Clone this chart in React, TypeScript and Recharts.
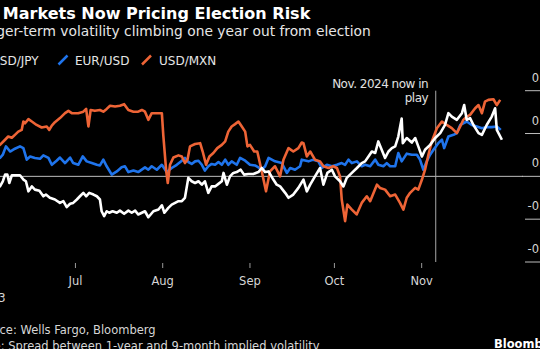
import React from 'react';
import { LineChart, Line, XAxis, YAxis, ReferenceLine } from 'recharts';

// Days since 1 Jun 2023 -> spread value
const usdJpy: [number, number][] = [
  [0, -0.03], [3.2, -0.047], [4.2, -0.023], [5, 0.008], [5.8, 0.008], [6.5, -0.031], [7.4, 0.005], [8.5, 0.005],
  [10.3, 0.005], [11.5, -0.015], [12.4, -0.023], [13.3, -0.07], [14.5, -0.047], [15.6, -0.062], [17.2, -0.067],
  [18.6, -0.093], [19.5, -0.085], [20.9, -0.1], [22.7, -0.108], [24.5, -0.124], [25.7, -0.116], [26.9, -0.144],
  [28.1, -0.128], [29.2, -0.124], [30.5, -0.108], [31.6, -0.093], [32.8, -0.077], [33.8, -0.093], [34.9, -0.077],
  [36.4, -0.085], [37.6, -0.093], [38.7, -0.108], [39.3, -0.163], [40.2, -0.186], [41.1, -0.163], [42, -0.17],
  [43.2, -0.163], [44.7, -0.17], [45.8, -0.16], [47.3, -0.175], [48.8, -0.16], [50, -0.17], [51.2, -0.16],
  [52.3, -0.178], [54.7, -0.163], [55.9, -0.191], [57.7, -0.163], [59.5, -0.155], [60.7, -0.135], [61.6, -0.17],
  [63, -0.147], [64.2, -0.132], [65.4, -0.124], [66.6, -0.116], [67.8, -0.116], [68.9, -0.1], [70.1, -0.007],
  [71.3, -0.023], [72.5, -0.031], [73.7, -0.023], [74.9, -0.039], [76, -0.023], [77.2, -0.077], [78.4, -0.047],
  [79.6, -0.047], [80.8, -0.035], [82, -0.023], [82.6, 0.016], [83.8, -0.039], [84.9, 0], [86.1, 0.016],
  [87.3, 0.02], [88.7, 0.031], [89.9, 0.008], [91.4, 0.011], [93.2, 0.011], [95, 0.02], [96.2, 0.039],
  [97.4, 0.02], [98.6, 0.023], [100.3, -0.015], [101.5, -0.039], [102.7, -0.047], [104.5, -0.077], [105.7, -0.1],
  [107.4, -0.085], [109.2, -0.054], [111, -0.015], [112.2, -0.07], [113.4, -0.039], [115.1, 0], [116.9, 0.039],
  [118.1, -0.039], [119.5, 0.016], [121.1, 0.031], [122.2, 0], [124, -0.023], [125.2, -0.047], [126.4, -0.007],
  [128.2, 0.016], [130, 0.039], [131.7, 0.062], [132.9, 0.07], [134.1, 0.093], [135.3, 0.116], [136.5, 0.109],
  [137.6, 0.163], [138.8, 0.124], [140, 0.086], [141.2, 0.116], [142.4, 0.132], [143.6, 0.14], [144.7, 0.186],
  [145.9, 0.27], [146.3, 0.155], [147.7, 0.179], [149.5, 0.158], [150.7, 0.179], [151.8, 0.14], [153.1, 0.093],
  [154.2, 0.124], [156, 0.147], [157.8, 0.179], [159.6, 0.202], [161.3, 0.24], [162.5, 0.295], [163.7, 0.279],
  [165.5, 0.264], [167.3, 0.295], [168.1, 0.333], [169, 0.264], [170.2, 0.272], [171.4, 0.24], [173.2, 0.202],
  [174.4, 0.194], [176.1, 0.24], [177.9, 0.279], [179.1, 0.318], [179.7, 0.217], [181.5, 0.171],
];

const eurUsd: [number, number][] = [
  [0, 0.09], [3.2, 0.086], [4.2, 0.101], [5.3, 0.14], [6.8, 0.116], [8.5, 0.129], [10.3, 0.14], [11.5, 0.132],
  [12.7, 0.078], [13.9, 0.093], [15.6, 0.086], [17.4, 0.082], [18.6, 0.098], [20.4, 0.086], [21.6, 0.054],
  [23.3, 0.073], [24.5, 0.088], [26.3, 0.062], [28.1, 0.088], [29.2, 0.062], [31, 0.054], [32.6, 0.093],
  [34, 0.07], [35.8, 0.062], [37.6, 0.054], [38.7, 0.051], [39.9, 0.078], [41.1, 0.047], [42.9, 0.008],
  [44.7, 0.023], [46.4, 0.042], [47.6, 0.047], [48.8, 0.02], [50.6, 0.027], [52.3, 0.02], [54.7, 0.042],
  [55.9, 0.031], [57.1, 0.047], [58.9, 0.031], [60.7, 0.054], [62.4, 0.02], [64.2, 0.039], [66, 0.054],
  [67.8, 0.073], [68.9, 0.086], [70.1, 0.067], [71.3, 0.058], [72.5, 0.07], [73.7, 0.073], [74.9, 0.054],
  [76, 0.027], [77.2, 0.047], [78.4, 0.058], [79.6, 0.054], [80.8, 0.067], [82, 0.054], [83.2, 0.078],
  [84.3, 0.054], [85.5, 0.07], [87.3, 0.054], [88.5, 0.086], [90.3, 0.073], [92, 0.054], [93.8, 0.051],
  [95, 0.042], [96.2, 0.031], [97.4, 0.047], [98.6, 0.086], [100.9, 0.07], [103.3, 0.062], [105.1, 0.016],
  [106.3, 0.039], [108, 0.031], [109.8, 0.047], [110.4, 0.078], [112.8, 0.07], [114.5, 0.078], [116.3, 0.07],
  [117.5, 0.039], [119.3, 0.054], [121.1, 0.047], [122.9, 0.054], [124.6, 0.062], [125.8, 0.054], [127, 0.078],
  [128.2, 0.062], [130, 0.07], [131.7, 0.047], [132.9, 0.054], [134.7, 0.047], [136.5, 0.078], [137.6, 0.054],
  [139.4, 0.047], [140.6, 0.062], [141.8, 0.047], [143.6, 0.047], [144.7, 0.109], [145.9, 0.07], [147.7, 0.106],
  [149.5, 0.101], [151.3, 0.101], [152.4, 0.078], [153.6, 0.031], [154.8, 0.07], [156, 0.101], [157.2, 0.124],
  [158.9, 0.155], [160.2, 0.171], [161, 0.132], [162.5, 0.186], [164.3, 0.194], [165.5, 0.202], [166.7, 0.24],
  [167.8, 0.248], [169, 0.256], [170.8, 0.24], [172.6, 0.233], [174.4, 0.225], [176.1, 0.23], [177.9, 0.23],
  [179.7, 0.233], [181.1, 0.217],
];

const usdMxn: [number, number][] = [
  [0, 0.14], [3.2, 0.147], [5, 0.171], [6.1, 0.186], [7.4, 0.18], [8.5, 0.194], [9.7, 0.209], [10.9, 0.217],
  [11.5, 0.256], [12.1, 0.248], [13.3, 0.267], [14.5, 0.256], [16.2, 0.24], [18, 0.228], [19.8, 0.233],
  [20.7, 0.217], [21.6, 0.237], [22.7, 0.253], [24.5, 0.272], [26.3, 0.295], [27.5, 0.306], [28.7, 0.295],
  [31, 0.295], [32.8, 0.302], [33.8, 0.315], [34.6, 0.233], [35.4, 0.31], [36.9, 0.306], [38.7, 0.31],
  [39.9, 0.302], [41.1, 0.315], [42.3, 0.33], [44.1, 0.326], [45.8, 0.33], [47.3, 0.337], [48.8, 0.31],
  [50.6, 0.302], [52.3, 0.302], [53.6, 0.31], [54.7, 0.302], [55.9, 0.264], [57.1, 0.295], [58.3, 0.295],
  [60.7, 0.295], [61.2, 0.194], [62.2, 0.031], [62.8, -0.031], [63.6, 0.054], [64.8, 0.088], [66.6, 0.098],
  [67.8, 0.093], [68.9, 0.062], [69.8, 0.078], [70.7, 0.14], [72.5, 0.151], [74.3, 0.155], [75.2, 0.116],
  [76.4, 0.054], [77.6, 0.093], [79, 0.109], [80.4, 0.132], [82, 0.147], [83.2, 0.163], [84.3, 0.209],
  [85.5, 0.233], [86.7, 0.244], [87.9, 0.256], [89.1, 0.233], [90.3, 0.209], [91.1, 0.14], [92, 0.147],
  [93.5, 0.116], [94.6, 0.116], [96.2, 0.023], [97.7, -0.07], [99.1, 0.023], [100.9, 0.047], [102.7, 0],
  [103.9, 0.078], [105.7, 0.132], [107.4, 0.116], [109.2, 0.132], [110.4, 0.158], [111, 0.155], [112.2, 0.093],
  [113.4, 0.116], [115.1, 0.078], [116.9, 0.07], [118.1, 0.047], [119.9, 0.039], [121.6, 0.047], [122.9, 0.039],
  [124, 0], [124.6, -0.108], [125.8, -0.209], [126.6, -0.132], [128.2, -0.155], [129.9, -0.178], [131.7, -0.124],
  [133.5, -0.093], [134.7, -0.116], [137.1, -0.039], [138.2, -0.054], [140, -0.062], [141.8, -0.093],
  [143.6, -0.085], [145.3, -0.124], [146.5, -0.155], [147.7, -0.1], [148.9, -0.077], [150.7, -0.054],
  [151.8, -0.062], [153.1, -0.015], [154.2, 0.031], [155.4, 0.101], [156.6, 0.163], [158.4, 0.225],
  [160.2, 0.256], [161.9, 0.24], [163.7, 0.225], [165.5, 0.202], [166.7, 0.233], [167.8, 0.264], [169, 0.279],
  [170.2, 0.287], [172, 0.318], [173.2, 0.333], [174.4, 0.295], [175.5, 0.349], [176.7, 0.357], [178.5, 0.36],
  [179.7, 0.333], [180.9, 0.357],
];

const monthTicks = [0, 30, 61, 92, 122, 153];
const monthLabels = ['Jun', 'Jul', 'Aug', 'Sep', 'Oct', 'Nov'];
const yearLabel = '2023';
const yTicks = [0.4, 0.2, 0, -0.2, -0.4];
const electionMarkerDay = 158;
const dayDomain: [number, number] = [0, 189];

const title = 'FX Markets Now Pricing Election Risk';
const subtitle = 'Longer-term volatility climbing one year out from election';
const seriesNames = ['USD/JPY', 'EUR/USD', 'USD/MXN'];
const annotation = ['Nov. 2024 now in', 'play'];
const source = 'Source: Wells Fargo, Bloomberg';
const note = 'Note: Spread between 1-year and 9-month implied volatility';

const FONT = '"DejaVu Sans", sans-serif';
const C_JPY = '#ffffff';
const C_EUR = '#1f74ec';
const C_MXN = '#ee6436';
const GRID = '#bdbdbd';
const TEXT = '#d6d6d6';

const toRows = (arr: [number, number][]) => arr.map(([d, v]) => ({ d, v }));

function XTick(props: any) {
  const { x, y, payload, index } = props;
  const i = monthTicks.indexOf(payload.value);
  return (
    <g>
      <line x1={x} x2={x} y1={y + 1} y2={y + 6} stroke="#9a9a9a" strokeWidth={1} />
      <text x={x} y={y + 23} textAnchor="middle" fill={TEXT} fontSize={11.5} fontFamily={FONT}>
        {monthLabels[i >= 0 ? i : index]}
      </text>
      {i === 0 && (
        <text x={x} y={y + 39.5} textAnchor="middle" fill={TEXT} fontSize={11.5} fontFamily={FONT}>
          {yearLabel}
        </text>
      )}
    </g>
  );
}

function YTick(props: any) {
  const { x, y, payload } = props;
  const v: number = payload.value;
  return (
    <g>
      <line x1={v === 0 ? x - 1 : x + 2} x2={x + 60} y1={y} y2={y} stroke={GRID} strokeWidth={1} />
      <text x={x + 27} y={y - 9} textAnchor="end" fill={TEXT} fontSize={11.5} fontFamily={FONT}>
        {v.toFixed(1)}
      </text>
    </g>
  );
}

function AnnotationLabel(props: any) {
  const vb = props.viewBox || {};
  const x = vb.x ?? 0;
  const y = vb.y ?? 0;
  return (
    <g>
      <text x={x - 7.6} y={y - 3} textAnchor="end" fill="#e0e0e0" fontSize={12} letterSpacing={-0.5} fontFamily={FONT}>
        {annotation[0]}
      </text>
      <text x={x - 7.6} y={y + 11.5} textAnchor="end" fill="#e0e0e0" fontSize={12} letterSpacing={-0.5} fontFamily={FONT}>
        {annotation[1]}
      </text>
    </g>
  );
}

export default function App() {
  return (
    <div
      style={{
        position: 'fixed',
        left: 0,
        top: 0,
        width: 540,
        height: 349,
        overflow: 'hidden',
        background: '#000',
        fontFamily: FONT,
      }}
    >
      <div style={{ position: 'absolute', left: -20, top: 0 }}>
        <LineChart width={583} height={302} margin={{ top: 90.7, right: 0, bottom: 0, left: 11 }}>
          <XAxis
            dataKey="d"
            type="number"
            domain={dayDomain}
            ticks={monthTicks}
            allowDataOverflow
            axisLine={false}
            tickLine={false}
            tickSize={0}
            tickMargin={0}
            height={40}
            interval={0}
            tick={<XTick />}
          />
          <YAxis
            orientation="right"
            type="number"
            domain={[-0.4, 0.4]}
            ticks={yTicks}
            allowDataOverflow
            axisLine={false}
            tickLine={false}
            tickSize={0}
            tickMargin={0}
            width={40}
            interval={0}
            tick={<YTick />}
          />
          <ReferenceLine y={0} stroke={GRID} strokeWidth={1} ifOverflow="extendDomain" />
          <ReferenceLine x={electionMarkerDay} stroke="#a8a8a8" strokeWidth={1} label={<AnnotationLabel />} />
          <Line data={toRows(eurUsd)} dataKey="v" type="linear" stroke={C_EUR} strokeWidth={2.6} dot={false} isAnimationActive={false} strokeLinejoin="round" />
          <Line data={toRows(usdMxn)} dataKey="v" type="linear" stroke={C_MXN} strokeWidth={2.6} dot={false} isAnimationActive={false} strokeLinejoin="round" />
          <Line data={toRows(usdJpy)} dataKey="v" type="linear" stroke={C_JPY} strokeWidth={2.6} dot={false} isAnimationActive={false} strokeLinejoin="round" />
        </LineChart>
      </div>
      <svg width={540} height={349} style={{ position: 'absolute', left: 0, top: 0, pointerEvents: 'none' }}>
        <text x={-26} y={19.2} fill="#ffffff" fontSize={16} fontWeight="bold" fontFamily={FONT}>
          {title}
        </text>
        <text x={-28.5} y={36} fill="#e6e6e6" fontSize={13.8} fontFamily={FONT}>
          {subtitle}
        </text>
        <line x1={-21} y1={64.5} x2={-12} y2={55.5} stroke={C_JPY} strokeWidth={2.5} />
        <text x={-9} y={64.5} fill="#e6e6e6" fontSize={12} fontFamily={FONT}>
          {seriesNames[0]}
        </text>
        <line x1={58.5} y1={64.5} x2={67.5} y2={55.5} stroke={C_EUR} strokeWidth={2.5} />
        <text x={75} y={64.5} fill="#e6e6e6" fontSize={12} fontFamily={FONT}>
          {seriesNames[1]}
        </text>
        <line x1={142} y1={64.5} x2={151} y2={55.5} stroke={C_MXN} strokeWidth={2.5} />
        <text x={159} y={64.5} fill="#e6e6e6" fontSize={12} fontFamily={FONT}>
          {seriesNames[2]}
        </text>
        <text x={-26.6} y={334} fill={TEXT} fontSize={11.5} fontFamily={FONT}>
          {source}
        </text>
        <text x={-26.6} y={349.5} fill={TEXT} fontSize={11.5} fontFamily={FONT}>
          {note}
        </text>
        <text x={494} y={347.5} fill="#ffffff" fontSize={11.5} fontWeight="bold" fontFamily={FONT}>
          Bloomberg
        </text>
      </svg>
    </div>
  );
}
